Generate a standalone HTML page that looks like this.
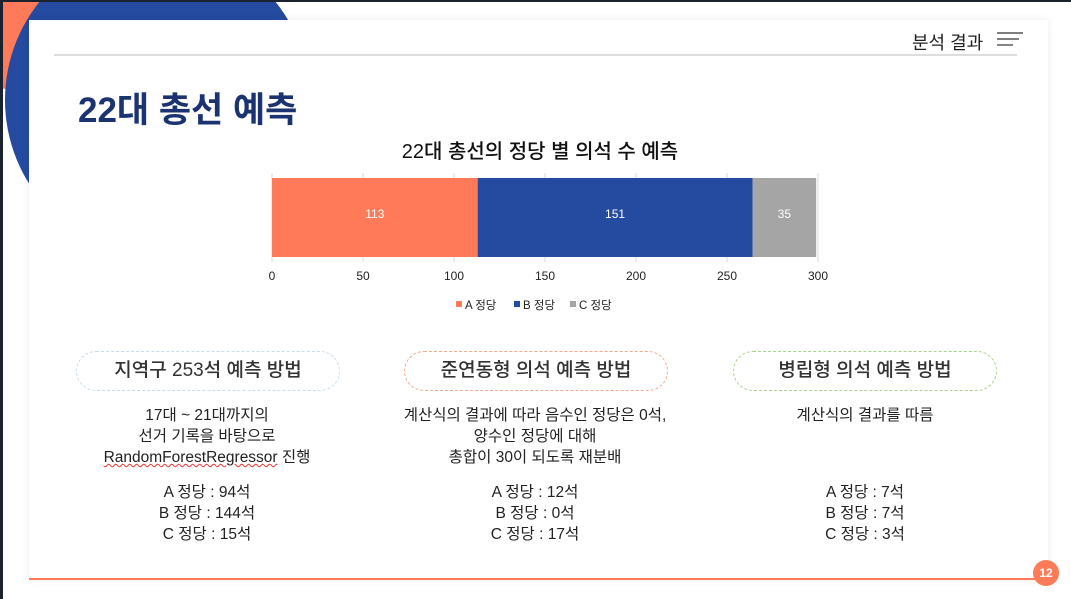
<!DOCTYPE html>
<html><head><meta charset="utf-8">
<style>
body{margin:0;width:1071px;height:599px;overflow:hidden;background:#fff;font-family:"Liberation Sans","Noto Sans CJK KR",sans-serif;position:relative}
.abs{position:absolute}
.pill{position:absolute;width:262px;height:38px;border-radius:20px;border:1.5px dashed;text-align:center;line-height:38px;font-size:19px;color:#333;font-weight:500}
.txt{position:absolute;text-align:center;font-size:15.5px;color:#222;line-height:21px}
</style></head><body>
<div class="abs" style="left:0;top:0;width:1071px;height:599px;overflow:hidden">
<div class="abs" style="left:-90px;top:-130px;width:220px;height:220px;border-radius:50%;background:#ff7a59"></div>
<div class="abs" style="left:5px;top:-55px;width:305px;height:310px;border-radius:50%;background:#244ba0"></div>
</div>
<div class="abs" style="left:0;top:0;width:1071px;height:2px;background:#1a2230"></div>
<div class="abs" style="left:0;top:0;width:3px;height:599px;background:#1a2230"></div>
<div class="abs" style="left:29px;top:20px;width:1019px;height:560px;background:#fff;box-shadow:0 0 8px rgba(0,0,0,0.08)"></div>
<div class="abs" style="left:54px;top:54px;width:963px;height:2px;background:#ddd"></div>
<div class="abs" style="left:912px;top:29px;font-size:18px;color:#222">분석 결과</div>
<svg class="abs" style="left:997px;top:32px" width="28" height="16"><line x1="0" y1="1" x2="26" y2="1" stroke="#333" stroke-width="1.2"/><line x1="0" y1="7" x2="22" y2="7" stroke="#333" stroke-width="1.2"/><line x1="0" y1="13" x2="16" y2="13" stroke="#333" stroke-width="1.2"/></svg>
<div class="abs" style="left:78px;top:82px;font-size:35px;font-weight:bold;color:#1b3370">22대 총선 예측</div>

<svg class="abs" id="chart" style="left:0;top:0" width="1071" height="330"></svg>

<div class="pill" style="left:76px;top:351px;border-color:#c9dcea">지역구 253석 예측 방법</div>
<div class="txt" style="left:60px;top:405px;width:294px">17대 ~ 21대까지의<br>선거 기록을 바탕으로<br><span style="text-decoration:underline wavy #e33;text-decoration-thickness:1px">RandomForestRegressor</span> 진행</div>
<div class="txt" style="left:60px;top:482px;width:294px">A 정당 : 94석<br>B 정당 : 144석<br>C 정당 : 15석</div>

<div class="pill" style="left:404px;top:351px;border-color:#f5a98a">준연동형 의석 예측 방법</div>
<div class="txt" style="left:370px;top:405px;width:330px">계산식의 결과에 따라 음수인 정당은 0석,<br>양수인 정당에 대해<br>총합이 30이 되도록 재분배</div>
<div class="txt" style="left:385px;top:482px;width:300px">A 정당 : 12석<br>B 정당 : 0석<br>C 정당 : 17석</div>

<div class="pill" style="left:733px;top:351px;border-color:#a8d38a">병립형 의석 예측 방법</div>
<div class="txt" style="left:725px;top:405px;width:280px">계산식의 결과를 따름</div>
<div class="txt" style="left:725px;top:482px;width:280px">A 정당 : 7석<br>B 정당 : 7석<br>C 정당 : 3석</div>

<div class="abs" style="left:29px;top:578px;width:1015px;height:2px;background:#ff7a59"></div>
<div class="abs" style="left:1033px;top:560px;width:26px;height:26px;border-radius:50%;background:#ff7a59;color:#fff;font-size:12px;font-weight:bold;text-align:center;line-height:26px">12</div>

<script>
const parties=["A 정당","B 정당","C 정당"];
const seats=[113,151,35];
const ticks=[0,50,100,150,200,250,300];
const colors=["#ff7a59","#244ba0","#a5a5a5"];
const svg=document.getElementById('chart');
const NS="http://www.w3.org/2000/svg";
const x0=272,x1=818,xmax=300;
const sx=v=>x0+(v/xmax)*(x1-x0);
function mk(t,a,txt){const e=document.createElementNS(NS,t);for(const k in a)e.setAttribute(k,a[k]);if(txt!=null)e.textContent=txt;svg.appendChild(e);return e;}
const title=mk('text',{x:540,y:158,'text-anchor':'middle','font-size':20,fill:'#111','font-weight':500},'22대 총선의 정당 별 의석 수 예측');


ticks.forEach(t=>{
 const g=mk('line',{x1:sx(t),x2:sx(t),y1:173,y2:262,stroke:'#d9d9d9','stroke-width':1});
 
 
 const l=mk('text',{x:sx(t),y:280,'text-anchor':'middle','font-size':12,fill:'#222'},String(t));
 
 
});
let acc=0;
seats.forEach((v,i)=>{
 const r=mk('rect',{x:sx(acc),y:178,width:sx(acc+v)-sx(acc),height:79,fill:colors[i]});
 
 
 const t=mk('text',{x:(sx(acc)+sx(acc+v))/2,y:218,'text-anchor':'middle','font-size':12,fill:'#fff'},String(v));
 
 
 acc+=v;
});
const lx=[456,514,570];
parties.forEach((p,i)=>{
 const s=mk('rect',{x:lx[i],y:301,width:6,height:6,fill:colors[i]});
 
 
 const t=mk('text',{x:lx[i]+9,y:309,'font-size':11.5,fill:'#222'},p);
 
 
});
</script>
</body></html>
